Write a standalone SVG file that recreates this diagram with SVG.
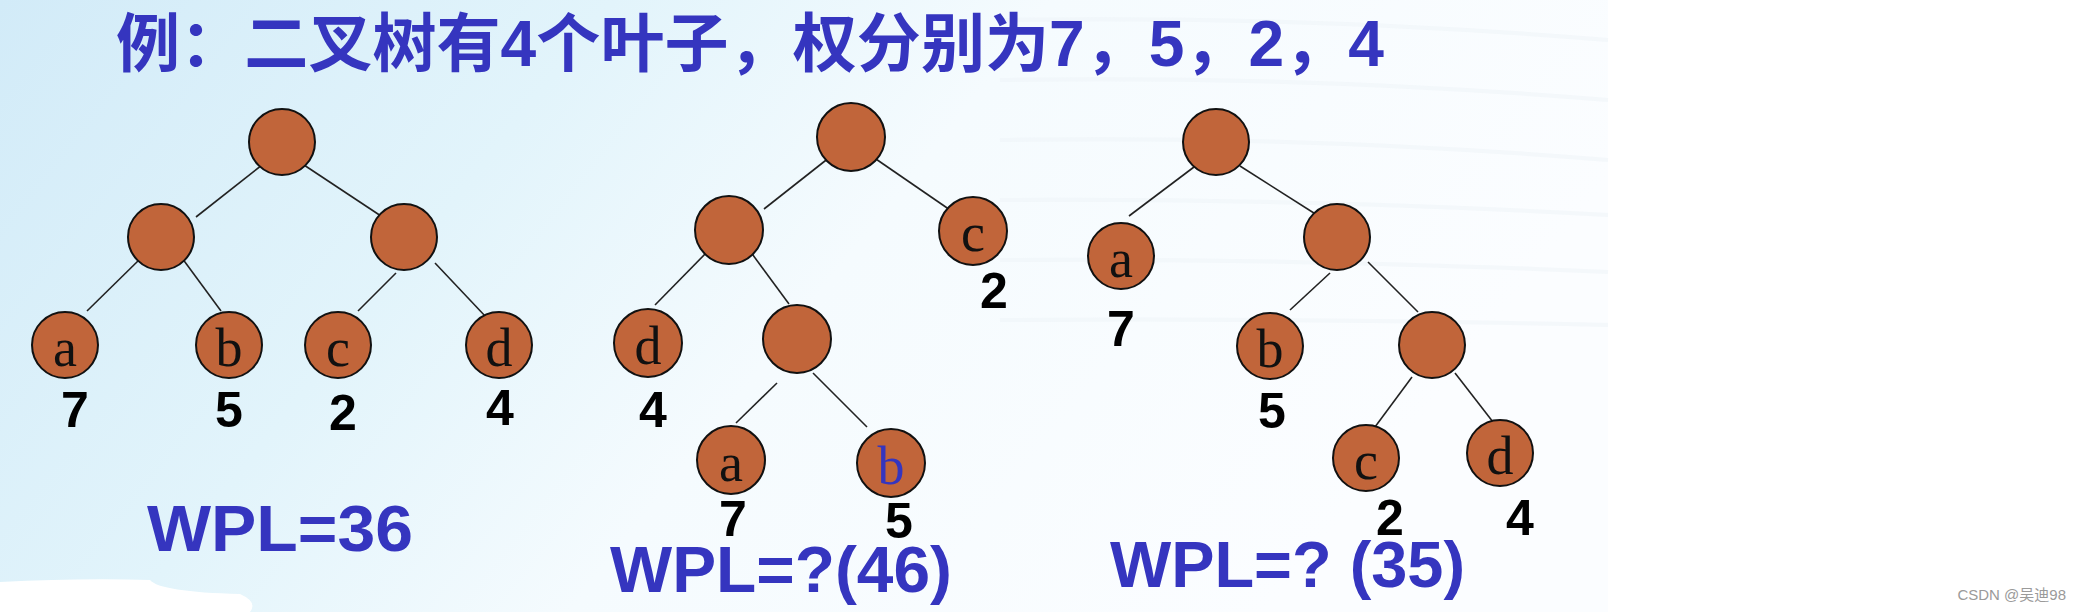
<svg xmlns="http://www.w3.org/2000/svg" width="2076" height="612" viewBox="0 0 2076 612">
<style>
.n{fill:#c1653a;stroke:#111;stroke-width:2}
.lt{font-family:"Liberation Serif",serif;font-size:54px;fill:#111;text-anchor:middle}
.w{font-family:"Liberation Sans",Arial,sans-serif;font-weight:bold;font-size:50px;fill:#000;text-anchor:middle}
.wpl{font-family:"Liberation Sans",Arial,sans-serif;font-weight:bold;font-size:64px;fill:#3535bf}
.e line{stroke:#222;stroke-width:1.6}
.wave{fill:none;stroke:#eef3f8;stroke-width:4;opacity:.5}
</style>
<defs>
<linearGradient id="bg" x1="0" y1="0" x2="1" y2="0.3">
<stop offset="0" stop-color="#d2ebf8"/>
<stop offset="0.35" stop-color="#e2f4fb"/>
<stop offset="0.6" stop-color="#f5fbfe"/>
<stop offset="1" stop-color="#fbfdff"/>
</linearGradient>
</defs>
<rect x="0" y="0" width="2076" height="612" fill="#fff"/>
<rect x="0" y="0" width="1608" height="612" fill="url(#bg)"/>
<g id="waves">
<path class="wave" d="M1000 20 Q1300 15 1608 40"/>
<path class="wave" d="M1000 80 Q1300 75 1608 100"/>
<path class="wave" d="M1000 140 Q1300 135 1608 160"/>
<path class="wave" d="M1000 200 Q1300 198 1608 215"/>
<path class="wave" d="M1000 260 Q1300 258 1608 272"/>
<path class="wave" d="M1000 320 Q1300 318 1608 325"/>
</g>
<path d="M0 582 Q80 578 150 580 Q160 592 240 594 Q258 602 250 612 L0 612 Z" fill="#fff"/>
<text id="title" x="116" y="66" textLength="1268" lengthAdjust="spacingAndGlyphs" style="font-family:'Liberation Sans','Noto Sans CJK SC',sans-serif;font-weight:bold;font-size:64px;fill:#3535bf">例：二叉树有4个叶子，权分别为7，5，2，4</text>
<g id="connectors" class="e">
<line x1="262" y1="165" x2="196" y2="217"/>
<line x1="304" y1="165" x2="384" y2="218"/>
<line x1="141" y1="258" x2="87" y2="311"/>
<line x1="182" y1="258" x2="221" y2="311"/>
<line x1="396" y1="273" x2="358" y2="311"/>
<line x1="435" y1="263" x2="486" y2="317"/>
<line x1="830" y1="157" x2="764" y2="209"/>
<line x1="873" y1="157" x2="953" y2="212"/>
<line x1="708" y1="251" x2="655" y2="305"/>
<line x1="750" y1="251" x2="789" y2="304"/>
<line x1="777" y1="383" x2="736" y2="423"/>
<line x1="813" y1="373" x2="867" y2="427"/>
<line x1="1194" y1="167" x2="1129" y2="216"/>
<line x1="1240" y1="166" x2="1317" y2="215"/>
<line x1="1330" y1="273" x2="1290" y2="310"/>
<line x1="1368" y1="262" x2="1418" y2="312"/>
<line x1="1412" y1="377" x2="1372" y2="431"/>
<line x1="1455" y1="373" x2="1493" y2="422"/>
</g>
<g id="t1-root"><circle class="n" cx="282" cy="142" r="33"/></g>
<g id="t1-l"><circle class="n" cx="161" cy="237" r="33"/></g>
<g id="t1-r"><circle class="n" cx="404" cy="237" r="33"/></g>
<g id="t1-a"><circle class="n" cx="65" cy="345" r="33"/><text class="lt" x="65" y="366">a</text><text class="w" x="75" y="427">7</text></g>
<g id="t1-b"><circle class="n" cx="229" cy="345" r="33"/><text class="lt" x="229" y="366">b</text><text class="w" x="229" y="427">5</text></g>
<g id="t1-c"><circle class="n" cx="338" cy="345" r="33"/><text class="lt" x="338" y="366">c</text><text class="w" x="343" y="430">2</text></g>
<g id="t1-d"><circle class="n" cx="499" cy="345" r="33"/><text class="lt" x="499" y="366">d</text><text class="w" x="500" y="425">4</text></g>
<text id="wpl1" class="wpl" x="147" y="551" textLength="266" lengthAdjust="spacingAndGlyphs">WPL=36</text>
<g id="t2-root"><circle class="n" cx="851" cy="137" r="34"/></g>
<g id="t2-l"><circle class="n" cx="729" cy="230" r="34"/></g>
<g id="t2-c"><circle class="n" cx="973" cy="231" r="34"/><text class="lt" x="973" y="251">c</text><text class="w" x="994" y="308">2</text></g>
<g id="t2-d"><circle class="n" cx="648" cy="343" r="34"/><text class="lt" x="648" y="364">d</text><text class="w" x="653" y="427">4</text></g>
<g id="t2-lr"><circle class="n" cx="797" cy="339" r="34"/></g>
<g id="t2-a"><circle class="n" cx="731" cy="460" r="34"/><text class="lt" x="731" y="481">a</text><text class="w" x="733" y="536">7</text></g>
<g id="t2-b"><circle class="n" cx="891" cy="463" r="34"/><text class="lt" x="891" y="484" style="fill:#3535bf">b</text><text class="w" x="899" y="538">5</text></g>
<text id="wpl2" class="wpl" x="610" y="592" textLength="342" lengthAdjust="spacingAndGlyphs">WPL=?(46)</text>
<g id="t3-root"><circle class="n" cx="1216" cy="142" r="33"/></g>
<g id="t3-a"><circle class="n" cx="1121" cy="256" r="33"/><text class="lt" x="1121" y="277">a</text><text class="w" x="1121" y="346">7</text></g>
<g id="t3-r"><circle class="n" cx="1337" cy="237" r="33"/></g>
<g id="t3-b"><circle class="n" cx="1270" cy="346" r="33"/><text class="lt" x="1270" y="367">b</text><text class="w" x="1272" y="428">5</text></g>
<g id="t3-rr"><circle class="n" cx="1432" cy="345" r="33"/></g>
<g id="t3-c"><circle class="n" cx="1366" cy="458" r="33"/><text class="lt" x="1366" y="479">c</text><text class="w" x="1390" y="535">2</text></g>
<g id="t3-d"><circle class="n" cx="1500" cy="453" r="33"/><text class="lt" x="1500" y="474">d</text><text class="w" x="1520" y="535">4</text></g>
<text id="wpl3" class="wpl" x="1110" y="587" textLength="355" lengthAdjust="spacingAndGlyphs">WPL=? (35)</text>
<text id="watermark" x="2066" y="600" text-anchor="end" style="font-family:'Liberation Sans','Noto Sans CJK SC',sans-serif;font-size:15px;fill:#9a9a9a">CSDN @吴迪98</text>
</svg>
